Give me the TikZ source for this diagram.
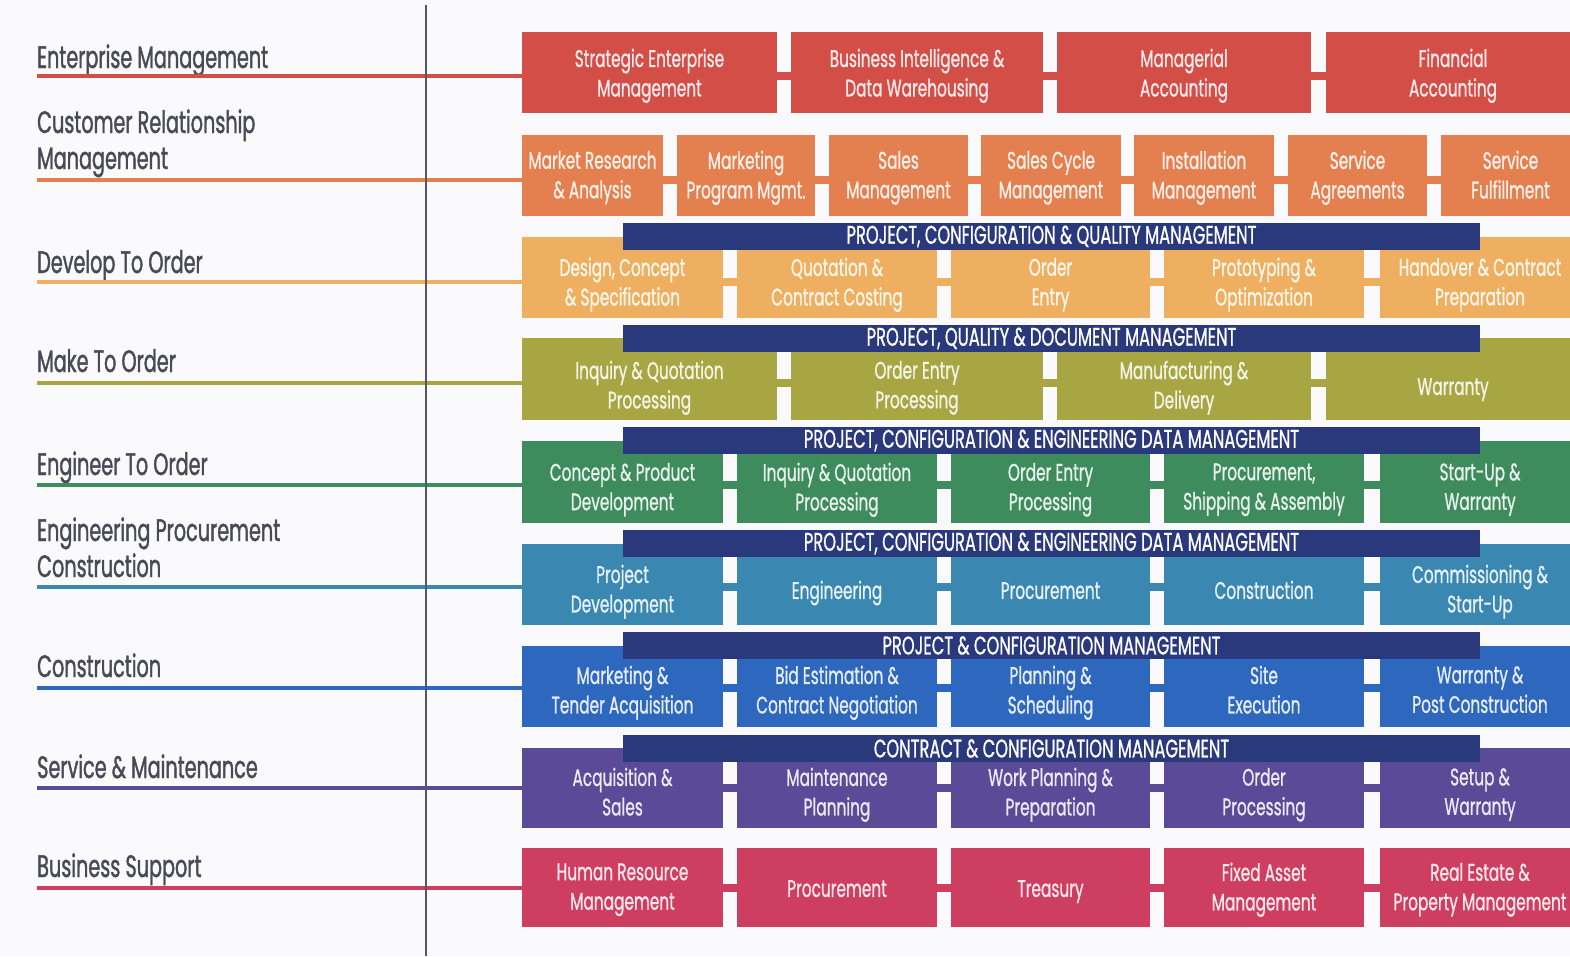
\documentclass[tikz,border=0pt]{standalone}
\usepackage{fontspec}
\setmainfont[FakeStretch=0.66]{Poppins}
\newfontfamily\labfont[FakeStretch=0.62, FakeBold=1.2]{Poppins}
\newfontfamily\boxfont[FakeStretch=0.64, FakeBold=0.8]{Poppins}
\usetikzlibrary{calc}

\definecolor{bgc}{HTML}{FAFAFC}
\definecolor{labgray}{HTML}{4A4A56}
\definecolor{divider}{HTML}{55566A}
\definecolor{navy}{HTML}{2A387C}
\definecolor{cA}{HTML}{D44E48}
\definecolor{cB}{HTML}{E48050}
\definecolor{cC}{HTML}{EEB060}
\definecolor{cD}{HTML}{A8A642}
\definecolor{cE}{HTML}{3E8C5E}
\definecolor{cF}{HTML}{3A88B2}
\definecolor{cG}{HTML}{2E68BE}
\definecolor{cH}{HTML}{5A4A98}
\definecolor{cI}{HTML}{CE3E60}

\tikzset{
  box/.style={rectangle, inner sep=0pt, draw=none},
  boxtext/.style={align=center, inner sep=0pt, font=\boxfont\fontsize{24}{29.5}\selectfont,
                  execute at begin node=\strut, execute at end node=\strut},
  banner/.style={rectangle, fill=navy, inner sep=0pt, minimum height=27, minimum width=857,
                 text=white, font=\boxfont\fontsize{25.5}{26}\selectfont},
  lab/.style={anchor=base west, inner sep=0pt, text=labgray, align=left,
              font=\labfont\fontsize{31}{36}\selectfont},
  rowline/.style={line width=4pt},
  gapline/.style={line width=8pt},
}

% one row of process boxes:
% #1 name prefix, #2 colour, #3 top, #4 bottom, #5 line y, #6 text y, #7 boxes (left/right/text)
\newcommand\procrow[7]{%
  \foreach \xa/\xb/\txt [count=\i, remember=\i as \prev (initially 0)] in {#7} {
    \node[box, fill=#2, minimum width={\xb-\xa}, minimum height={#4-#3}]
      (#1\i) at ({(\xa+\xb)/2},{(#3+#4)/2}) {};
    \node[boxtext, text=white!88!#2] (#1t\i) at ({(\xa+\xb)/2},#6) {\txt};
    \ifnum\i>1
      \draw[gapline, #2] (#1\prev.east |- 0,#5) -- (#1\i.west |- 0,#5);
    \fi
  }
}

\begin{document}
\begin{tikzpicture}[x=1pt, y=-1pt]
\useasboundingbox (0,0) rectangle (1570,956);
\fill[bgc] (0,0) rectangle (1570,956);
\clip (0,0) rectangle (1570,956);

% row labels on the left (multi-line labels sit on their last baseline)
\node[lab] (lA) at (37,68)  {Enterprise Management};
\node[lab] (lB) at (37,169) {Customer Relationship\\Management};
\node[lab] (lC) at (37,273) {Develop To Order};
\node[lab] (lD) at (37,372) {Make To Order};
\node[lab] (lE) at (37,475) {Engineer To Order};
\node[lab] (lF) at (37,577) {Engineering Procurement\\Construction};
\node[lab] (lG) at (37,677) {Construction};
\node[lab] (lH) at (37,778) {Service \& Maintenance};
\node[lab] (lI) at (37,877) {Business Support};

% process rows
\procrow{a}{cA}{32}{113}{76}{77}{
  522/777/{Strategic Enterprise\\Management},
  791/1043/{Business Intelligence \&\\Data Warehousing},
  1057/1311/{Managerial\\Accounting},
  1326/1580/{Financial\\Accounting}}
\procrow{b}{cB}{135}{216}{180}{179}{
  522/663/{Market Research\\\& Analysis},
  677/815/{Marketing\\Program Mgmt.},
  829/968/{Sales\\Management},
  981/1121/{Sales Cycle\\Management},
  1134/1274/{Installation\\Management},
  1288/1427/{Service\\Agreements},
  1441/1580/{Service\\Fulfillment}}
\procrow{c}{cC}{237}{318}{282}{286}{
  522/723/{Design, Concept\\\& Specification},
  737/937/{Quotation \&\\Contract Costing},
  951/1150/{Order\\Entry},
  1164/1364/{Prototyping \&\\Optimization},
  1380/1580/{Handover \& Contract\\Preparation}}
\procrow{d}{cD}{338}{420}{383}{389}{
  522/777/{Inquiry \& Quotation\\Processing},
  791/1043/{Order Entry\\Processing},
  1057/1311/{Manufacturing \&\\Delivery},
  1326/1580/{Warranty}}
\procrow{e}{cE}{441}{523}{485}{491}{
  522/723/{Concept \& Product\\Development},
  737/937/{Inquiry \& Quotation\\Processing},
  951/1150/{Order Entry\\Processing},
  1164/1364/{Procurement,\\Shipping \& Assembly},
  1380/1580/{Start-Up \&\\Warranty}}
\procrow{f}{cF}{544}{625}{587}{593}{
  522/723/{Project\\Development},
  737/937/{Engineering},
  951/1150/{Procurement},
  1164/1364/{Construction},
  1380/1580/{Commissioning \&\\Start-Up}}
\procrow{g}{cG}{646}{727}{688}{694}{
  522/723/{Marketing \&\\Tender Acquisition},
  737/937/{Bid Estimation \&\\Contract Negotiation},
  951/1150/{Planning \&\\Scheduling},
  1164/1364/{Site\\Execution},
  1380/1580/{Warranty \&\\Post Construction}}
\procrow{h}{cH}{748}{828}{788}{796}{
  522/723/{Acquisition \&\\Sales},
  737/937/{Maintenance\\Planning},
  951/1150/{Work Planning \&\\Preparation},
  1164/1364/{Order\\Processing},
  1380/1580/{Setup \&\\Warranty}}
\procrow{i}{cI}{848}{927}{888}{891}{
  522/723/{Human Resource\\Management},
  737/937/{Procurement},
  951/1150/{Treasury},
  1164/1364/{Fixed Asset\\Management},
  1380/1580/{Real Estate \&\\Property Management}}

% lines from each label into its row
\draw[rowline, cA] (lA.west |- 0,76)  -- (a1.west |- 0,76);
\draw[rowline, cB] (lB.west |- 0,180) -- (b1.west |- 0,180);
\draw[rowline, cC] (lC.west |- 0,282) -- (c1.west |- 0,282);
\draw[rowline, cD] (lD.west |- 0,383) -- (d1.west |- 0,383);
\draw[rowline, cE] (lE.west |- 0,485) -- (e1.west |- 0,485);
\draw[rowline, cF] (lF.west |- 0,587) -- (f1.west |- 0,587);
\draw[rowline, cG] (lG.west |- 0,688) -- (g1.west |- 0,688);
\draw[rowline, cH] (lH.west |- 0,788) -- (h1.west |- 0,788);
\draw[rowline, cI] (lI.west |- 0,888) -- (i1.west |- 0,888);

% divider between labels and process map
\coordinate (dTop) at (426,5);
\coordinate (dBot) at (426,956);
\draw[divider, line width=2.5pt] (dTop) -- (dBot);

% management banners spanning the rows
\node[banner] (p1) at (1051.5,236.5) {PROJECT, CONFIGURATION \& QUALITY MANAGEMENT};
\node[banner] (p2) at (1051.5,338.5) {PROJECT, QUALITY \& DOCUMENT MANAGEMENT};
\node[banner] (p3) at (1051.5,440.5) {PROJECT, CONFIGURATION \& ENGINEERING DATA MANAGEMENT};
\node[banner] (p4) at (1051.5,543.5) {PROJECT, CONFIGURATION \& ENGINEERING DATA MANAGEMENT};
\node[banner] (p5) at (1051.5,645.5) {PROJECT \& CONFIGURATION MANAGEMENT};
\node[banner] (p6) at (1051.5,748.5) {CONTRACT \& CONFIGURATION MANAGEMENT};
\end{tikzpicture}
\end{document}
